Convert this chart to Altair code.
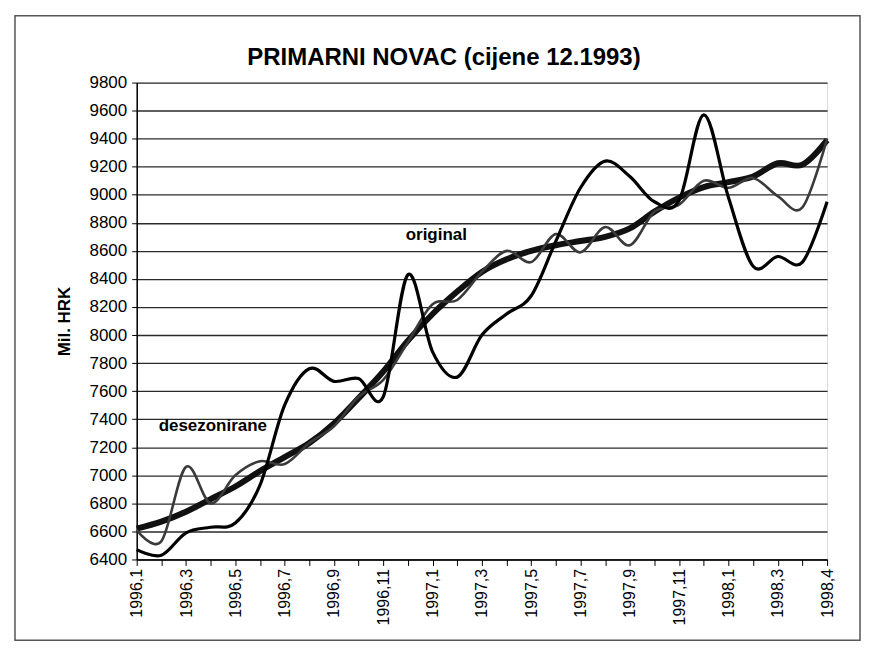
import altair as alt
import pandas as pd

# Category labels (29 positions; every other one labelled, as in the source)
x_labels = ["1996,1", "", "1996,3", "", "1996,5", "", "1996,7", "", "1996,9", "",
            "1996,11", "", "1997,1", "", "1997,3", "", "1997,5", "", "1997,7", "",
            "1997,9", "", "1997,11", "", "1998,1", "", "1998,3", "", "1998,4"]

original = [6470, 6430, 6590, 6630, 6660, 6930, 7500, 7760, 7670, 7690,
            7560, 8430, 7880, 7700, 8000, 8150, 8280, 8670, 9050, 9240,
            9130, 8950, 8960, 9570, 8980, 8490, 8560, 8520, 8950]

desezonirane = [6610, 6530, 7060, 6800, 7000, 7100, 7080, 7230, 7350, 7560,
                7680, 7950, 8220, 8250, 8450, 8600, 8520, 8720, 8590, 8770,
                8640, 8880, 8930, 9100, 9050, 9120, 8990, 8910, 9400]

trend = [6620, 6670, 6740, 6830, 6920, 7030, 7130, 7230, 7370, 7550,
         7740, 7960, 8150, 8310, 8450, 8540, 8600, 8640, 8670, 8700,
         8760, 8880, 8980, 9055, 9090, 9130, 9225, 9215, 9390]

y_ticks = list(range(6400, 9801, 200))

title_text = "PRIMARNI NOVAC (cijene 12.1993)"

ann_text = ["original", "desezonirane"]
ann_x = [12.15, 0.89]
ann_y = [8713, 7349]
ann_align = ["center", "left"]

FONT = "Liberation Sans"

rows = []
for series, vals in [("trend", trend), ("desezonirane", desezonirane), ("original", original)]:
    for i, v in enumerate(vals):
        rows.append({"idx": i, "value": v, "series": series})
df = pd.DataFrame(rows)

label_js = "[" + ",".join("'" + s + "'" for s in x_labels) + "][datum.value]"

x_enc = alt.X("idx:Q",
              scale=alt.Scale(domain=[0, len(x_labels) - 1], nice=False, zero=False),
              axis=alt.Axis(values=list(range(len(x_labels))), labelExpr=label_js,
                            labelAngle=-90, grid=False, title=None, tickSize=6,
                            tickColor="black", domainColor="black", domainWidth=1.5,
                            labelPadding=3, labelFontSize=16, labelColor="black",
                            labelFont=FONT, labelOverlap=False))
y_enc = alt.Y("value:Q",
              scale=alt.Scale(domain=[6400, 9800], nice=False, zero=False),
              axis=alt.Axis(values=y_ticks, format="d", title="Mil. HRK", titleFontSize=17,
                            titleFontWeight="bold", titleFont=FONT, titleColor="black",
                            titlePadding=16, labelFontSize=17, labelFont=FONT,
                            labelColor="black", labelPadding=5, tickSize=5,
                            tickColor="black", domainColor="black", domainWidth=1.5,
                            labelOverlap=False,
                            grid=True, gridColor="#2a2a2a", gridWidth=1.3))

base = alt.Chart(df)

def series_line(name, width, color):
    return base.transform_filter(alt.datum.series == name).mark_line(
        interpolate="cardinal", strokeWidth=width, color=color
    ).encode(x=x_enc, y=y_enc, detail="series:N")

trend_line = series_line("trend", 6, "#111111")
des_line = series_line("desezonirane", 2.6, "#3a3a3a")
orig_line = series_line("original", 3.2, "#000000")

ann_df = pd.DataFrame({"text": ann_text, "idx": ann_x, "value": ann_y, "align": ann_align})
ann_center = alt.Chart(ann_df[ann_df["align"] == "center"]).mark_text(
    fontSize=17, fontWeight="bold", font=FONT, color="black", align="center", baseline="middle"
).encode(x=x_enc, y=y_enc, text="text:N")
ann_left = alt.Chart(ann_df[ann_df["align"] == "left"]).mark_text(
    fontSize=17, fontWeight="bold", font=FONT, color="black", align="left", baseline="middle"
).encode(x=x_enc, y=y_enc, text="text:N")

title_df = pd.DataFrame({"t": [title_text]})
title_mark = alt.Chart(title_df).mark_text(
    fontSize=24, fontWeight="bold", font=FONT, color="black", align="center",
    baseline="middle", clip=False
).encode(x=alt.value(308), y=alt.value(-25), text="t:N")

frame = alt.Chart(title_df).mark_rect(filled=False, stroke="#555555", strokeWidth=1.5, clip=False).encode(
    x=alt.value(-122), x2=alt.value(725), y=alt.value(-67), y2=alt.value(559)
)

chart = alt.layer(frame, trend_line, des_line, orig_line, ann_center, ann_left, title_mark).properties(
    width=692, height=478,
    autosize=alt.AutoSizeParams(type="none"),
    padding={"left": 129, "top": 74, "right": 40, "bottom": 86},
).configure_view(stroke="black", strokeWidth=2).configure(background="white")

chart.save("out.html", embed_options={"renderer": "svg", "actions": False})
